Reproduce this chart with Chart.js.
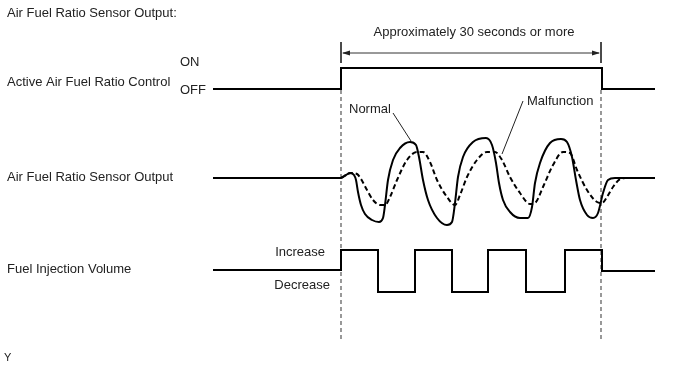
<!DOCTYPE html>
<html>
<head>
<meta charset="utf-8">
<script src="https://cdn.jsdelivr.net/npm/chart.js@4"></script>
<style>
html,body{margin:0;padding:0;background:#fff;}
#wrap{width:688px;height:366px;}
</style>
</head>
<body>
<div id="wrap"><canvas id="c" width="688" height="366"></canvas></div>
<script>
// ---- data (time axis in diagram units, vertical level in diagram units) ----
const activeT = [213, 341, 341, 602, 602, 655];
const activeLevel = [89, 89, 68, 68, 89, 89];

const fuelT = [213, 341, 341, 378, 378, 415, 415, 452, 452, 488, 488, 526, 526, 565, 565, 602, 602, 655];
const fuelLevel = [270, 270, 250, 250, 292, 292, 250, 250, 292, 292, 250, 250, 292, 292, 250, 250, 271, 271];

const normalT = [213, 341, 346, 350, 354, 356, 358, 361, 365, 372, 379, 383, 385, 388, 393, 400, 410, 416, 419, 423, 428, 437, 447, 452, 455, 458, 463, 473, 486, 492, 496, 499, 503, 510, 520, 528, 532, 535, 540, 550, 561, 567, 572, 576, 580, 587, 593, 598, 603, 608, 615, 655];
const normalLevel = [178, 178, 175, 173, 175, 180, 192, 205, 214, 220, 222, 218, 205, 180, 160, 148, 142, 145, 157, 180, 200, 218, 225, 222, 203, 177, 157, 142, 138, 145, 163, 183, 200, 212, 218, 218, 207, 183, 163, 143, 139, 142, 157, 180, 200, 215, 218, 213, 193, 180, 178, 178];

const malfT = [341, 346, 351, 357, 361, 367, 373, 380, 385, 390, 397, 407, 417, 423, 430, 437, 447, 455, 460, 467, 477, 487, 495, 502, 510, 520, 530, 535, 543, 553, 563, 570, 577, 587, 597, 602, 607, 613, 620, 625];
const malfLevel = [178, 175, 173, 174, 179, 190, 200, 205, 205, 197, 180, 160, 152, 152, 162, 180, 197, 205, 195, 177, 160, 152, 152, 160, 177, 193, 204, 203, 187, 165, 152, 153, 170, 190, 202, 203, 197, 187, 179, 178];

const markerT = [341, 601];        // start / end of active control
const markerTop = 90, markerBottom = 342;
const dimLevel = 53, dimTickTop = 42, dimTickBottom = 63;

const pts = (xs, ys) => xs.map((x, i) => ({x, y: ys[i]}));

const INK = '#000';
const TXT = '#222';

const datasets = [
  {data: pts(activeT, activeLevel), borderColor: INK, borderWidth: 2, tension: 0},
  {data: pts(fuelT, fuelLevel), borderColor: INK, borderWidth: 2, tension: 0},
  {data: pts(normalT, normalLevel), borderColor: INK, borderWidth: 2, cubicInterpolationMode: 'monotone'},
  {data: pts(malfT, malfLevel), borderColor: INK, borderWidth: 2, borderDash: [5, 3], cubicInterpolationMode: 'monotone'},
];
markerT.forEach(t => {
  datasets.push({data: [{x: t, y: markerTop}, {x: t, y: markerBottom}], borderColor: '#555', borderWidth: 1.2, borderDash: [4, 3]});
  datasets.push({data: [{x: t, y: dimTickTop}, {x: t, y: dimTickBottom}], borderColor: '#333', borderWidth: 1});
});
datasets.push({data: [{x: markerT[0] + 2, y: dimLevel}, {x: markerT[1] - 2, y: dimLevel}], borderColor: '#333', borderWidth: 1});
// leader lines
datasets.push({data: [{x: 393, y: 113}, {x: 411, y: 141}], borderColor: '#222', borderWidth: 1});
datasets.push({data: [{x: 523, y: 101}, {x: 502, y: 154}], borderColor: '#222', borderWidth: 1});

const labels = [
  {t: 'Air Fuel Ratio Sensor Output:', x: 7, y: 13, a: 'left'},
  {t: 'Active Air Fuel Ratio Control', x: 7, y: 82, a: 'left'},
  {t: 'ON', x: 180, y: 62, a: 'left'},
  {t: 'OFF', x: 180, y: 90, a: 'left'},
  {t: 'Air Fuel Ratio Sensor Output', x: 7, y: 177, a: 'left'},
  {t: 'Fuel Injection Volume', x: 7, y: 269, a: 'left'},
  {t: 'Increase', x: 325, y: 252, a: 'right'},
  {t: 'Decrease', x: 330, y: 285, a: 'right'},
  {t: 'Normal', x: 349, y: 109, a: 'left'},
  {t: 'Malfunction', x: 527, y: 101, a: 'left'},
  {t: 'Approximately 30 seconds or more', x: 474, y: 32, a: 'center'},
  {t: 'Y', x: 4, y: 358, a: 'left', s: 11},
];

const annot = {
  id: 'annot',
  afterDatasetsDraw(chart) {
    const {ctx, scales: {x, y}} = chart;
    ctx.save();
    // arrow heads
    ctx.fillStyle = '#222';
    const ay = y.getPixelForValue(dimLevel);
    const l = x.getPixelForValue(markerT[0] + 1), r = x.getPixelForValue(markerT[1] - 1);
    ctx.beginPath(); ctx.moveTo(l, ay); ctx.lineTo(l + 8, ay - 2.5); ctx.lineTo(l + 8, ay + 2.5); ctx.closePath(); ctx.fill();
    ctx.beginPath(); ctx.moveTo(r, ay); ctx.lineTo(r - 8, ay - 2.5); ctx.lineTo(r - 8, ay + 2.5); ctx.closePath(); ctx.fill();
    ctx.fillStyle = TXT;
    ctx.textBaseline = 'middle';
    labels.forEach(o => {
      ctx.font = (o.s || 13) + 'px "Liberation Sans", Arial, sans-serif';
      ctx.textAlign = o.a;
      ctx.fillText(o.t, x.getPixelForValue(o.x), y.getPixelForValue(o.y));
    });
    ctx.restore();
  }
};

new Chart(document.getElementById('c'), {
  type: 'scatter',
  data: {datasets: datasets.map(d => Object.assign({showLine: true, pointRadius: 0, pointHoverRadius: 0, fill: false, borderCapStyle: 'butt', borderJoinStyle: 'miter'}, d))},
  options: {
    responsive: false,
    animation: false,
    events: [],
    layout: {padding: 0},
    plugins: {legend: {display: false}, tooltip: {enabled: false}, title: {display: false}},
    scales: {
      x: {type: 'linear', display: false, min: 0, max: 688},
      y: {type: 'linear', display: false, min: 0, max: 366, reverse: true}
    }
  },
  plugins: [annot]
});
</script>
</body>
</html>
